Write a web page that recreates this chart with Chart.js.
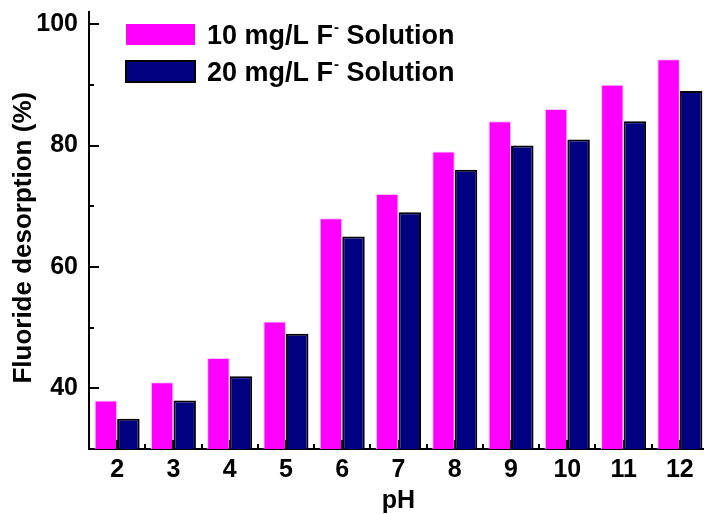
<!DOCTYPE html>
<html>
<head>
<meta charset="utf-8">
<script src="https://cdn.jsdelivr.net/npm/chart.js@4/dist/chart.umd.min.js"></script>
<style>
	html, body { margin: 0; padding: 0; background: #fff; overflow: hidden; }
	#wrap { width: 712px; height: 514px; }
</style>
</head>
<body>
<div id="wrap"><canvas id="desorptionplot" width="712" height="514"></canvas></div>
<script>
const pHValues = ['2', '3', '4', '5', '6', '7', '8', '9', '10', '11', '12']; // x categories
const desorption10 = [38, 41, 45, 51, 68, 72, 79, 84, 86, 90, 94.2]; // 10 mg/L F- solution (%)
const desorption20 = [35, 38, 42, 49, 65, 69, 76, 80, 81, 84, 89]; // 20 mg/L F- solution (%)
const seriesLabels = ['10 mg/L F', '20 mg/L F'];
const majorYTicks = [40, 60, 80, 100];
const minorYTicks = [50, 70, 90];

const pinkColor = '#ff00ff';
const navyColor = '#000080';
const axisColor = '#000000';
const fontFamily = '"Liberation Sans", Arial, sans-serif';
Chart.defaults.font.family = fontFamily;
Chart.defaults.color = axisColor;

// Inward ticks on both axes, drawn over the bars like the axis frame
const innerTicks = {
	id: 'innerTicks',
	afterDatasetsDraw(chart) {
		const ctx = chart.ctx;
		const xs = chart.scales.x, ys = chart.scales.y;
		const left = chart.chartArea.left, bottom = chart.chartArea.bottom;
		ctx.save();
		ctx.strokeStyle = axisColor;
		ctx.lineWidth = 2;
		ctx.beginPath();
		majorYTicks.forEach(v => {
			let y = Math.round(ys.getPixelForValue(v));
			ctx.moveTo(left, y); ctx.lineTo(left + 10, y);
		});
		minorYTicks.forEach(v => {
			let y = Math.round(ys.getPixelForValue(v));
			ctx.moveTo(left, y); ctx.lineTo(left + 5, y);
		});
		pHValues.forEach((lab, i) => {
			let x = Math.round(xs.getPixelForValue(i));
			ctx.moveTo(x, bottom); ctx.lineTo(x, bottom - 9);
			let xm = Math.round(xs.getPixelForValue(i + 0.5));
			if (i < pHValues.length - 1) {
				ctx.moveTo(xm, bottom); ctx.lineTo(xm, bottom - 5);
			}
		});
		ctx.stroke();
		ctx.restore();
	}
};

// Legend boxes in the upper left corner of the plot, with superscript minus after F
const boxLegend = {
	id: 'boxLegend',
	afterDraw(chart) {
		const ctx = chart.ctx;
		const rows = [
			{y: 24, fill: pinkColor, stroke: null},
			{y: 61, fill: navyColor, stroke: axisColor}
		];
		ctx.save();
		rows.forEach((r, i) => {
			ctx.fillStyle = r.fill;
			ctx.fillRect(126, r.y, 69, 21);
			if (r.stroke) {
				ctx.strokeStyle = r.stroke;
				ctx.lineWidth = 2;
				ctx.strokeRect(126, r.y, 69, 21);
			}
			ctx.fillStyle = axisColor;
			ctx.textBaseline = 'alphabetic';
			ctx.font = 'bold 27px ' + fontFamily;
			let tx = 207, ty = r.y + 20;
			ctx.fillText(seriesLabels[i], tx, ty);
			tx += ctx.measureText(seriesLabels[i]).width + 1;
			ctx.font = 'bold 15px ' + fontFamily;
			ctx.fillText('-', tx, ty - 12);
			tx += ctx.measureText('-').width;
			ctx.font = 'bold 27px ' + fontFamily;
			ctx.fillText(' Solution', tx, ty);
		});
		ctx.restore();
	}
};

var desorptionplot = new Chart('desorptionplot', {
	type: 'bar',
	data: {
		labels: pHValues,
		datasets: [{
			data: desorption10,
			backgroundColor: pinkColor,
			borderColor: '#ffc4ff',
			borderWidth: 1,
			borderSkipped: 'bottom'
		}, {
			data: desorption20,
			backgroundColor: navyColor,
			borderColor: axisColor,
			borderWidth: 2,
			borderSkipped: 'bottom'
		}]
	},
	options: {
		responsive: false,
		animation: false,
		layout: {
			padding: {left: 0, top: 12, right: 4, bottom: 0}
		},
		datasets: {
			bar: {
				categoryPercentage: 0.8,
				barPercentage: 1.0
			}
		},
		plugins: {
			legend: { display: false },
			tooltip: { enabled: false }
		},
		scales: {
			x: {
				grid: { display: false, drawTicks: false },
				border: { color: axisColor, width: 2 },
				ticks: {
					padding: 6,
					font: { size: 25, weight: 'bold' },
					color: axisColor,
					maxRotation: 0
				},
				title: {
					display: true,
					text: 'pH',
					font: { size: 25, weight: 'bold', lineHeight: 1 },
					padding: 0,
					color: axisColor
				},
				afterFit(scale) {
					scale.height = 65;
					scale.paddingLeft = 0;
					scale.paddingRight = 0;
				}
			},
			y: {
				min: 30,
				max: 102,
				grid: { display: false, drawTicks: false },
				border: { color: axisColor, width: 2 },
				afterBuildTicks(scale) {
					scale.ticks = majorYTicks.map(v => ({value: v}));
				},
				ticks: {
					padding: 11,
					font: { size: 25, weight: 'bold' },
					color: axisColor
				},
				title: {
					display: true,
					// trailing spaces nudge the centred title down a little
					text: 'Fluoride desorption (%)  ',
					font: { size: 26, weight: 'bold', lineHeight: 1 },
					padding: { top: 11, bottom: 0 },
					color: axisColor
				},
				afterFit(scale) {
					scale.width = 89;
					scale.paddingTop = 0;
					scale.paddingBottom = 0;
				}
			}
		}
	},
	plugins: [innerTicks, boxLegend]
});
</script>
</body>
</html>
